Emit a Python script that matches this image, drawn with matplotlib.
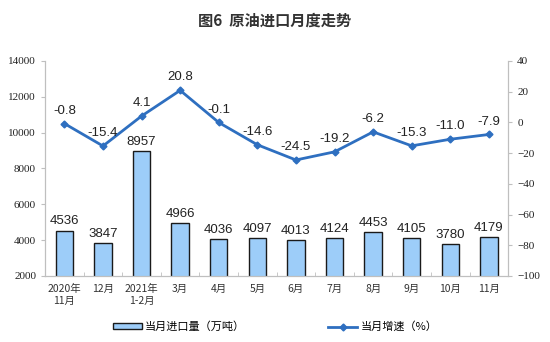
import matplotlib.pyplot as plt
import numpy as np

plt.rcParams['font.family'] = ['Liberation Sans', 'Noto Sans CJK SC', 'DejaVu Sans']

months = ["2020年\n11月", "12月", "2021年\n1-2月", "3月", "4月", "5月",
          "6月", "7月", "8月", "9月", "10月", "11月"]
imports = [4536, 3847, 8957, 4966, 4036, 4097, 4013, 4124, 4453, 4105, 3780, 4179]
growth = [-0.8, -15.4, 4.1, 20.8, -0.1, -14.6, -24.5, -19.2, -6.2, -15.3, -11.0, -7.9]

x = np.arange(len(months))
grey = "#bfbfbf"
line_c = "#2e6fc0"

fig = plt.figure(figsize=(5.5, 3.42), dpi=100)
ax = fig.add_axes([0.082, 0.193, 0.842, 0.629])
ax2 = ax.twinx()

ax.bar(x, imports, width=0.45, color="#9dcdf9", edgecolor="#1a1a1a",
       linewidth=1.0, label="当月进口量（万吨）", zorder=2)
for xi, v in zip(x, imports):
    ax.text(xi, v + 180, f"{v}", ha="center", va="bottom", fontsize=9.5, color="#222222")

ax2.plot(x, growth, color=line_c, lw=2, marker="D", ms=3.5, label="当月增速（%）", zorder=3)
for xi, v in zip(x, growth):
    ax2.text(xi, v + 4.5, f"{v:.1f}", ha="center", va="bottom", fontsize=9.5, color="#222222")

ax.set_xlim(-0.5, len(months) - 0.5)
ax.set_ylim(2000, 14000)
ax.set_yticks(np.arange(2000, 14001, 2000))
ax2.set_ylim(-100, 40)
ax2.set_yticks(np.arange(-100, 41, 20))

ax.set_xticks(x)
ax.set_xticklabels(months, fontsize=7.5, family=['Noto Sans CJK SC'], color="#333333")
ax.set_xticks(np.arange(-0.5, len(months), 1), minor=True)
ax.tick_params(axis="x", which="major", length=0, pad=6)
ax.tick_params(axis="x", which="minor", length=3, color=grey, direction="in")
ax.tick_params(axis="y", length=3, color=grey, labelsize=8, labelcolor="#222222")
ax2.tick_params(axis="y", length=3, color=grey, labelsize=8, labelcolor="#222222")
for lab in ax.get_yticklabels() + ax2.get_yticklabels():
    lab.set_family("Liberation Serif")

for a in (ax, ax2):
    a.spines["top"].set_visible(False)
    for s in ("left", "right", "bottom"):
        a.spines[s].set_color(grey)

fig.text(0.5, 0.94, "图6  原油进口月度走势", ha="center", va="center", fontsize=11,
         fontweight="bold", family=['Noto Sans CJK SC'], color="#333333")

h1, l1 = ax.get_legend_handles_labels()
h2, l2 = ax2.get_legend_handles_labels()
fig.legend(h1 + h2, l1 + l2, loc="center", bbox_to_anchor=(0.5, 0.045), ncol=2,
           frameon=False, columnspacing=7.5, handlelength=2.6,
           handleheight=0.4, handletextpad=0.3, prop={'family': 'Noto Sans CJK SC', 'size': 8})

fig.savefig("out.png", dpi=100)
